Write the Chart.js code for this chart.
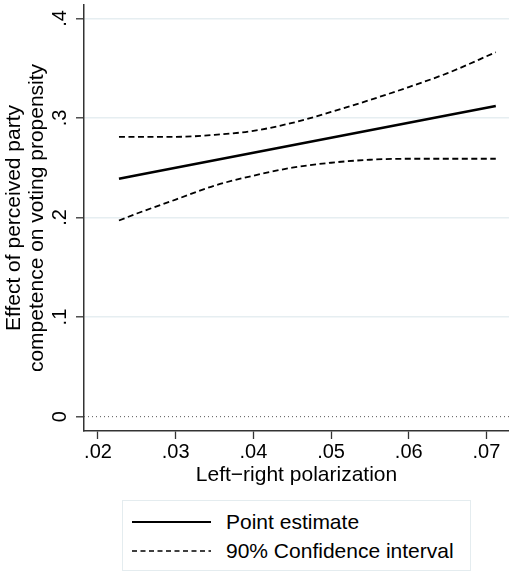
<!DOCTYPE html>
<html>
<head>
<meta charset="utf-8">
<script src="https://cdn.jsdelivr.net/npm/chart.js@4.4.1/dist/chart.umd.min.js"></script>
<style>
  body { margin: 0; background: #fff; font-family: Arial, "Liberation Sans", sans-serif; }
  #wrap { position: relative; width: 509px; height: 572px; }
  #marginsChart { position: absolute; left: 0; top: 0; }
  #legend { position: absolute; left: 122px; top: 500px; width: 349px; height: 71px;
            border: 1px solid #e4ecef; box-sizing: border-box; }
  .row { position: absolute; left: 9px; height: 26px; display: flex; align-items: center;
         font-size: 21px; color: #000; white-space: nowrap; }
  .row svg { margin-right: 15px; }
</style>
</head>
<body>
<div id="wrap">
  <canvas id="marginsChart" width="509" height="490"></canvas>
  <div id="legend">
    <div class="row" style="top:8px">
      <svg width="79" height="4"><line x1="0" y1="2" x2="79" y2="2" stroke="#000" stroke-width="2"/></svg>
      Point estimate
    </div>
    <div class="row" style="top:37px">
      <svg width="79" height="4"><line x1="0" y1="2" x2="79" y2="2" stroke="#000" stroke-width="1.6" stroke-dasharray="5 3.5"/></svg>
      90% Confidence interval
    </div>
  </div>
</div>
<script>
// polarizzazione sinistra-destra (asse x)
const polarization = [0.0227, 0.025, 0.030, 0.035, 0.040, 0.045, 0.050, 0.055, 0.060, 0.065, 0.0712];
const pointEstimate = [0.239, 0.2425, 0.250, 0.2575, 0.265, 0.2726, 0.280, 0.2876, 0.2951, 0.3027, 0.312];
const ciUpper = [0.281, 0.281, 0.281, 0.283, 0.287, 0.295, 0.306, 0.318, 0.331, 0.345, 0.366];
const ciLower = [0.197, 0.204, 0.218, 0.232, 0.242, 0.250, 0.255, 0.258, 0.259, 0.259, 0.259];

const xTicks = [0.02, 0.03, 0.04, 0.05, 0.06, 0.07];
const yTicks = [0, 0.1, 0.2, 0.3, 0.4];
const xRange = [0.0182, 0.0729];
const yRange = [-0.0144, 0.4134];

const toPoints = (ys) => polarization.map((x, i) => ({ x: x, y: ys[i] }));
const fmt = (v) => v === 0 ? '0' : String(+v.toFixed(2)).replace(/^0/, '');

const ciStyle = {
    borderColor: '#000',
    borderWidth: 1.8,
    borderDash: [6, 3.5],
    pointRadius: 0,
    cubicInterpolationMode: 'monotone',
    fill: false
};

new Chart(document.getElementById('marginsChart').getContext('2d'), {
    type: 'line',
    data: {
        datasets: [
            {
                label: 'zero',
                data: [{ x: xRange[0], y: 0 }, { x: xRange[1], y: 0 }],
                borderColor: '#555',
                borderWidth: 1,
                borderDash: [1, 3],
                pointRadius: 0
            },
            Object.assign({ label: '90% Confidence interval', data: toPoints(ciUpper) }, ciStyle),
            Object.assign({ label: '90% Confidence interval (lower)', data: toPoints(ciLower) }, ciStyle),
            {
                label: 'Point estimate',
                data: toPoints(pointEstimate),
                borderColor: '#000',
                borderWidth: 2.6,
                pointRadius: 0
            }
        ]
    },
    options: {
        responsive: false,
        devicePixelRatio: 1,
        animation: false,
        layout: { padding: { top: 5, right: 0, left: 0, bottom: 0 } },
        plugins: { legend: { display: false }, tooltip: { enabled: false } },
        scales: {
            x: {
                type: 'linear',
                min: xRange[0],
                max: xRange[1],
                afterBuildTicks: (s) => { s.ticks = xTicks.map(v => ({ value: v })); },
                afterFit: (s) => { s.height = 59; s.paddingLeft = 0; s.paddingRight = 0; },
                grid: { drawOnChartArea: false, tickLength: 8, tickColor: '#333', tickWidth: 1.3 },
                border: { color: '#333', width: 1.5 },
                ticks: {
                    callback: (v) => fmt(v),
                    font: { family: 'Arial, "Liberation Sans"', size: 20 },
                    color: '#000',
                    padding: 1,
                    maxRotation: 0
                },
                title: {
                    display: true,
                    text: 'Left\u2212right polarization',
                    font: { family: 'Arial, "Liberation Sans"', size: 21 },
                    color: '#000',
                    padding: { top: 0, bottom: 2 }
                }
            },
            y: {
                min: yRange[0],
                max: yRange[1],
                afterBuildTicks: (s) => { s.ticks = yTicks.map(v => ({ value: v })); },
                afterFit: (s) => { s.width = 84; s.paddingTop = 0; s.paddingBottom = 0; },
                grid: {
                    color: (c) => (c.tick && c.tick.value === 0) ? 'rgba(0,0,0,0)' : '#e6eef1',
                    lineWidth: 1.6,
                    tickLength: 8,
                    tickColor: '#333',
                    tickWidth: 1.3
                },
                border: { color: '#333', width: 1.5 },
                ticks: {
                    callback: (v) => fmt(v),
                    font: { family: 'Arial, "Liberation Sans"', size: 20 },
                    color: '#000',
                    minRotation: 90,
                    maxRotation: 90,
                    crossAlign: 'center',
                    padding: 7
                },
                title: {
                    display: true,
                    text: ['Effect of perceived party', 'competence on voting propensity'],
                    font: { family: 'Arial, "Liberation Sans"', size: 21, lineHeight: 1.1 },
                    color: '#000',
                    padding: { top: 3, bottom: 0 }
                }
            }
        }
    }
});
</script>
</body>
</html>
